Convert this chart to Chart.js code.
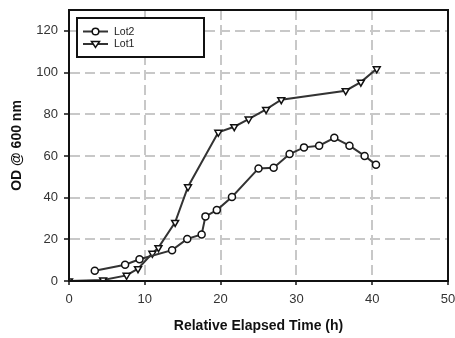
<!DOCTYPE html>
<html>
<head>
<meta charset="utf-8">
<script src="https://cdn.jsdelivr.net/npm/chart.js@4.4.1/dist/chart.umd.min.js"></script>
<style>
  html, body { margin: 0; padding: 0; background: #fff; }
  #wrap { width: 455px; height: 338px; }
</style>
</head>
<body>
<div id="wrap"><canvas id="odChart"></canvas></div>
<script>
// Data
const lot2Time = [3.4, 7.4, 9.3, 13.6, 15.6, 17.5, 18.0, 19.5, 21.5, 25.0, 27.0, 29.1, 31.0, 33.0, 35.0, 37.0, 39.0, 40.5];
const lot2OD   = [4.9, 7.8, 10.4, 14.8, 20.2, 22.3, 31.0, 34.0, 40.3, 54.0, 54.3, 60.9, 64.1, 64.9, 68.7, 64.9, 60.0, 55.8];
const lot1Time = [0, 4.5, 7.6, 9.1, 11.0, 11.8, 14.0, 15.7, 19.7, 21.8, 23.7, 26.0, 28.0, 36.5, 38.5, 40.6];
const lot1OD   = [0, 0.5, 2.7, 5.9, 13.3, 16.0, 28.1, 45.2, 71.3, 74.0, 77.7, 82.3, 87.0, 91.3, 95.4, 101.8];
const xTicks = [0, 10, 20, 30, 40, 50];
const yTicks = [0, 20, 40, 60, 80, 100, 120];

const font = "'Liberation Sans', Arial, sans-serif";
const lineColor = '#333';

function pts(xs, ys) {
  return xs.map((x, i) => ({ x: x, y: ys[i] }));
}

// frame round the plot area + legend box in the upper left corner
const framePlugin = {
  id: 'frame',
  afterDraw(chart) {
    const { ctx, chartArea: a } = chart;
    ctx.save();
    ctx.strokeStyle = '#111';
    ctx.lineWidth = 2;
    ctx.strokeRect(a.left, a.top, a.right - a.left, a.bottom - a.top);

    // legend
    const bx = 77, by = 18, bw = 127, bh = 39;
    ctx.fillStyle = '#fff';
    ctx.fillRect(bx, by, bw, bh);
    ctx.strokeRect(bx, by, bw, bh);
    chart.data.datasets.forEach((ds, i) => {
      const y = by + 13.5 + i * 12.5;
      ctx.strokeStyle = lineColor;
      ctx.lineWidth = 2;
      ctx.beginPath();
      ctx.moveTo(83, y);
      ctx.lineTo(108, y);
      ctx.stroke();
      ctx.fillStyle = '#fff';
      ctx.strokeStyle = '#111';
      ctx.lineWidth = 1.5;
      ctx.beginPath();
      if (ds.pointStyle === 'triangle') {
        ctx.moveTo(91.5, y - 2.5);
        ctx.lineTo(99.5, y - 2.5);
        ctx.lineTo(95.5, y + 3.5);
        ctx.closePath();
      } else {
        ctx.arc(95.5, y, 3.3, 0, Math.PI * 2);
      }
      ctx.fill();
      ctx.stroke();
      ctx.fillStyle = '#222';
      ctx.font = '10.5px ' + font;
      ctx.textBaseline = 'middle';
      ctx.fillText(ds.label, 114, y + 0.5);
    });
    ctx.restore();
  }
};

new Chart(document.getElementById('odChart').getContext('2d'), {
  type: 'scatter',
  data: {
    datasets: [{
      label: 'Lot2',
      data: pts(lot2Time, lot2OD),
      showLine: true,
      borderColor: lineColor,
      borderWidth: 2,
      pointStyle: 'circle',
      pointRadius: 3.5,
      pointBackgroundColor: '#fff',
      pointBorderColor: '#111',
      pointBorderWidth: 1.5
    },
    {
      label: 'Lot1',
      data: pts(lot1Time, lot1OD),
      showLine: true,
      borderColor: lineColor,
      borderWidth: 2,
      pointStyle: 'triangle',
      pointRotation: 180,
      pointRadius: 4,
      pointBackgroundColor: '#fff',
      pointBorderColor: '#111',
      pointBorderWidth: 1.5
    }]
  },
  options: {
    responsive: true,
    maintainAspectRatio: false,
    animation: false,
    layout: { padding: { left: 0, top: 10, right: 7, bottom: 0 } },
    plugins: {
      legend: { display: false },
      tooltip: { enabled: false }
    },
    scales: {
      x: {
        type: 'linear',
        min: 0,
        max: 50,
        afterFit: function(scale) {
          scale.height = 57;
          scale.paddingLeft = 0;
          scale.paddingRight = 0;
        },
        afterBuildTicks: function(scale) { scale.ticks = xTicks.map(v => ({ value: v })); },
        ticks: {
          color: '#333',
          padding: 7,
          font: { size: 13, family: font }
        },
        grid: {
          color: '#c8c8c8',
          lineWidth: 2,
          tickLength: 4,
          tickColor: '#111',
          tickWidth: 1.5
        },
        border: { display: true, color: '#111', width: 2, dash: [10, 5] },
        title: {
          display: true,
          text: 'Relative Elapsed Time (h)',
          color: '#111',
          font: { size: 14, weight: 'bold', family: font },
          padding: { top: 4, bottom: 3 }
        }
      },
      y: {
        type: 'linear',
        min: 0,
        max: 130,
        afterFit: function(scale) {
          scale.width = 69;
          scale.paddingTop = 0;
          scale.paddingBottom = 0;
        },
        afterBuildTicks: function(scale) { scale.ticks = yTicks.map(v => ({ value: v })); },
        ticks: {
          color: '#333',
          padding: 6,
          font: { size: 13, family: font }
        },
        grid: {
          color: '#c8c8c8',
          lineWidth: 2,
          tickLength: 5,
          tickColor: '#111',
          tickWidth: 1.5
        },
        border: { display: true, color: '#111', width: 2, dash: [10, 5] },
        title: {
          display: true,
          text: 'OD @ 600 nm',
          color: '#111',
          font: { size: 14, weight: 'bold', family: font },
          padding: { top: 9, bottom: 4 }
        }
      }
    }
  },
  plugins: [framePlugin]
});
</script>
</body>
</html>
